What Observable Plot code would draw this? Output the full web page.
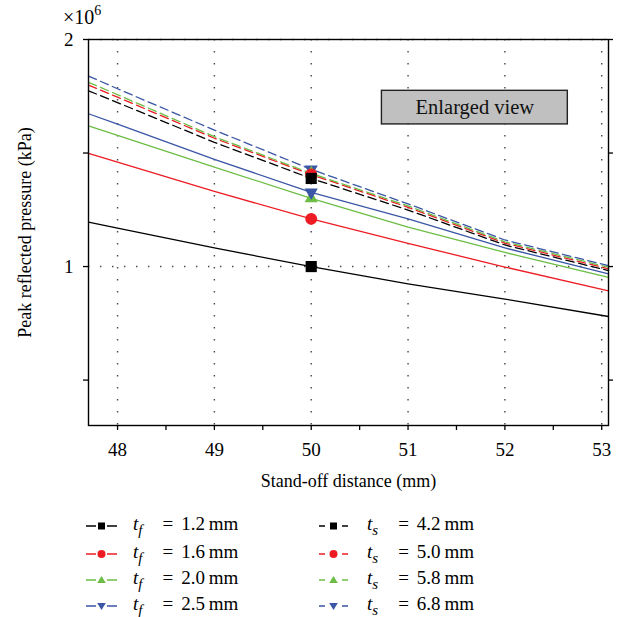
<!DOCTYPE html>
<html>
<head>
<meta charset="utf-8">
<script src="https://cdn.jsdelivr.net/npm/d3@7"></script>
<script src="https://cdn.jsdelivr.net/npm/@observablehq/plot@0.6"></script>
<style>
  body { margin: 0; background: #fff; }
  #wrap { position: relative; width: 620px; height: 617px; font-family: "Liberation Serif", "DejaVu Serif", serif; color: #000; }
  .leg { position: absolute; display: flex; align-items: center; height: 22px; font-size: 19px; white-space: nowrap; }
  .leg sub { font-size: 15px; vertical-align: -5px; }
</style>
</head>
<body>
<div id="wrap"></div>
<script>
// ---- data (pressure in units of 10^6 kPa) ----
const distance = [47.7, 48, 49, 50, 51, 52, 53.07];
const tf12 = [1.196, 1.169, 1.082, 1.000, 0.924, 0.857, 0.780];
const tf16 = [1.499, 1.460, 1.331, 1.210, 1.102, 0.998, 0.893];
const tf20 = [1.620, 1.578, 1.438, 1.300, 1.174, 1.062, 0.952];
const tf25 = [1.673, 1.627, 1.472, 1.327, 1.210, 1.082, 0.968];
const ts42 = [1.774, 1.722, 1.547, 1.388, 1.249, 1.095, 0.982];
const ts50 = [1.799, 1.746, 1.565, 1.405, 1.261, 1.103, 0.990];
const ts58 = [1.811, 1.757, 1.572, 1.410, 1.267, 1.109, 0.997];
const ts68 = [1.839, 1.783, 1.601, 1.428, 1.276, 1.117, 1.004];
const markerDistance = 50;
const seriesValues = [tf12, tf16, tf20, tf25, ts42, ts50, ts58, ts68];
const seriesVar = ["f", "f", "f", "f", "s", "s", "s", "s"];
const seriesThickness = ["1.2", "1.6", "2.0", "2.5", "4.2", "5.0", "5.8", "6.8"];
const xTicks = [48, 48.5, 49, 49.5, 50, 50.5, 51, 51.5, 52, 52.5, 53];
const xTickLabels = [48, 49, 50, 51, 52, 53];
const yTicks = [0.5, 1, 1.5, 2];
const yTickLabels = [1, 2];
const annotationText = ["Enlarged view"];
const annotationBox = [[50.73, 52.65, 1.626, 1.774]];

// ---- styles ----
const colors = ["#000000", "#ed1c24", "#6cbd45", "#3a56a5", "#000000", "#ed1c24", "#6cbd45", "#3a56a5"];
const symbols = ["square", "circle", "triangle", "triangle", "square", "circle", "triangle", "triangle"];
const rotations = [0, 0, 0, 180, 0, 0, 0, 180];
const radii = {square: 6.3, circle: 6, triangle: 4.9};

const rows = [];
seriesValues.forEach((vals, i) => {
  vals.forEach((v, j) => rows.push({s: i, x: distance[j], y: v}));
});
const markerRows = seriesValues.map((vals, i) => ({s: i, x: markerDistance, y: vals[distance.indexOf(markerDistance)]}));
const ann = annotationText.map((t, i) => ({text: t, x1: annotationBox[i][0], x2: annotationBox[i][1], y1: annotationBox[i][2], y2: annotationBox[i][3]}));

const font = "'Liberation Serif', 'DejaVu Serif', serif";
const gridStyle = {stroke: "#333", strokeWidth: 1.4, strokeDasharray: "1.4,10.6", strokeOpacity: 0.9};
const markerOrder = [0, 1, 2, 3, 7, 6, 5, 4];

const plot = Plot.plot({
  width: 620,
  height: 500,
  marginLeft: 88,
  marginRight: 12,
  marginTop: 39,
  marginBottom: 75,
  style: {fontFamily: font, fontSize: "19px", color: "#000", background: "transparent", overflow: "visible"},
  x: {domain: [47.7, 53.07]},
  y: {domain: [0.3, 2.0]},
  marks: [
    Plot.ruleX(xTickLabels, gridStyle),
    Plot.ruleY(yTickLabels, gridStyle),
    Plot.rect(ann, {x1: "x1", x2: "x2", y1: "y1", y2: "y2", fill: "#c0c0c0", stroke: "#222", strokeWidth: 1.4}),
    Plot.text(ann, {x: d => (d.x1 + d.x2) / 2, y: d => (d.y1 + d.y2) / 2, text: "text", fontSize: 20.5, fill: "#111"}),
    Plot.line(rows.filter(d => d.s < 4), {x: "x", y: "y", z: "s", stroke: d => colors[d.s], strokeWidth: 1.3}),
    Plot.line(rows.filter(d => d.s >= 4), {x: "x", y: "y", z: "s", stroke: d => colors[d.s], strokeWidth: 1.3, strokeDasharray: "8.5,4.5"}),
    ...markerOrder.map(i => Plot.dot([markerRows[i]], {
      x: "x", y: "y", symbol: symbols[i], rotate: rotations[i], r: radii[symbols[i]], fill: colors[i], stroke: "none"
    })),
    Plot.axisX({ticks: xTicks, tickFormat: d => Number.isInteger(d) ? d : "", tickSize: 5, tickPadding: 12, strokeWidth: 1.3,
      label: null, fontSize: 19}),
    Plot.axisX({ticks: [], label: "Stand-off distance (mm)", labelAnchor: "center", labelArrow: "none", labelOffset: 61, fontSize: 18}),
    Plot.axisY({ticks: yTicks, tickFormat: d => yTickLabels.includes(d) ? d : "", tickSize: 5, tickPadding: 10, strokeWidth: 1.3,
      label: null, fontSize: 19}),
    Plot.axisY({ticks: [], label: "Peak reflected pressure (kPa)", labelAnchor: "center", labelArrow: "none", labelOffset: 70, fontSize: 18}),
    Plot.axisY({anchor: "right", ticks: yTicks, tickFormat: () => "", tickSize: 4, strokeWidth: 1.3, label: null}),
    Plot.frame({stroke: "#000", strokeWidth: 1.4})
  ]
});
plot.style.position = "absolute";
plot.style.left = "0px";
plot.style.top = "0px";
const wrap = document.getElementById("wrap");
wrap.appendChild(plot);

// x10^6 multiplier
const mult = document.createElement("div");
mult.style.cssText = "position:absolute;left:63px;top:7px;font-size:20px;line-height:20px;";
mult.innerHTML = "×10<span style='position:relative;font-size:14px;top:-9px'>6</span>";
wrap.appendChild(mult);

// legend
const legendCols = [86, 318];
const legendTextLeft = [133, 367];
const legendRowTop = [515, 543, 569, 595];
seriesValues.forEach((_, i) => {
  const col = i < 4 ? 0 : 1;
  const row = i % 4;
  const c = colors[i];
  const sym = symbols[i];
  let marker;
  if (sym === "square") marker = `<rect x="12" y="3.5" width="7" height="7" fill="${c}"/>`;
  else if (sym === "circle") marker = `<circle cx="15.5" cy="7" r="4" fill="${c}"/>`;
  else if (rotations[i] === 0) marker = `<path d="M15.5,3 L19.8,10 L11.2,10 Z" fill="${c}"/>`;
  else marker = `<path d="M15.5,11 L19.8,4 L11.2,4 Z" fill="${c}"/>`;
  const lines = col === 0
    ? `<line x1="0" y1="7" x2="10" y2="7" stroke="${c}" stroke-width="1.5"/><line x1="21" y1="7" x2="31" y2="7" stroke="${c}" stroke-width="1.5"/>`
    : `<line x1="1" y1="7" x2="7" y2="7" stroke="${c}" stroke-width="1.5"/><line x1="24" y1="7" x2="30" y2="7" stroke="${c}" stroke-width="1.5"/>`;
  const div = document.createElement("div");
  div.className = "leg";
  div.style.left = legendCols[col] + "px";
  div.style.top = legendRowTop[row] + "px";
  div.innerHTML = `<svg width="32" height="14" style="display:block">${lines}${marker}</svg>` +
    `<span style="position:absolute;left:${legendTextLeft[col] - legendCols[col]}px"><i>t</i><sub><i>${seriesVar[i]}</i></sub><span style="display:inline-block;width:20px"></span>=<span style="display:inline-block;width:8px"></span>${seriesThickness[i]}&thinsp;mm</span>`;
  wrap.appendChild(div);
});
</script>
</body>
</html>
